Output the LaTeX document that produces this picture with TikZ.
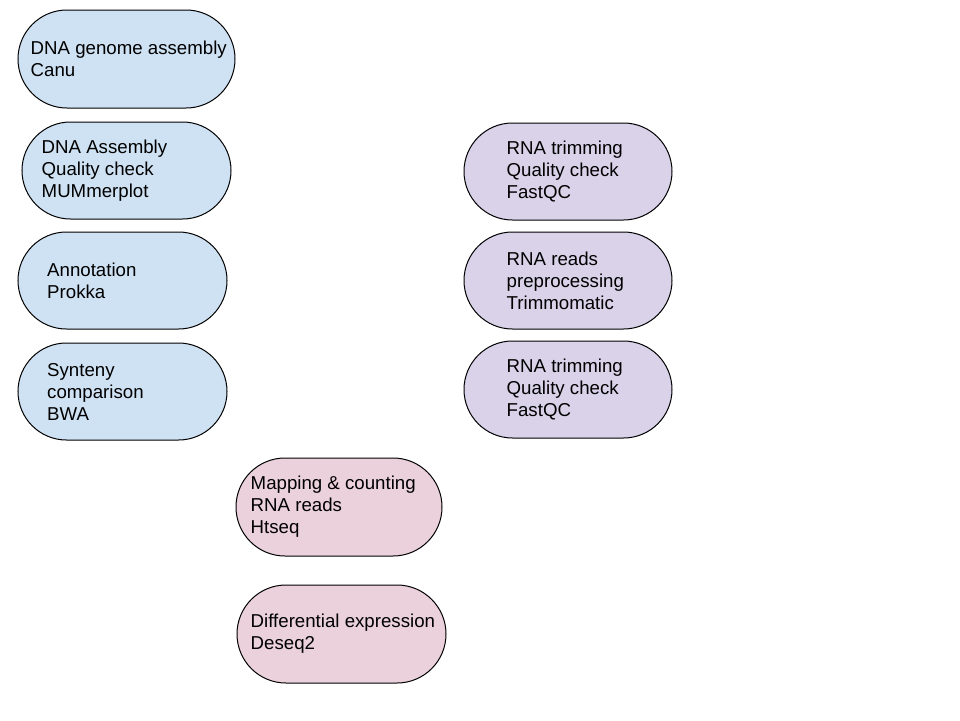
\documentclass[tikz,border=0pt]{standalone}
\usepackage{fontspec}
\setmainfont{Liberation Sans}
\definecolor{dnablue}{HTML}{CFE2F3}
\definecolor{rnapurple}{HTML}{D9D2E9}
\definecolor{mappink}{HTML}{EAD1DC}
\begin{document}
\begin{tikzpicture}[x=1pt,y=1pt,
  stage/.style={draw=black, line width=1pt, rectangle, inner sep=0pt,
    minimum height=97pt, rounded corners=48.5pt},
  label/.style={anchor=west, align=left, inner sep=0pt,
    font=\fontsize{18.67}{22}\selectfont}]
\useasboundingbox (0,0) rectangle (960,-720);
% DNA column
\node[stage, fill=dnablue, minimum width=217pt, minimum height=98pt, rounded corners=49pt] (canu) at (126.5,-59) {};
\node[label] (canu-t) at ([xshift=13pt]canu.west) {DNA genome assembly\\Canu};
\node[stage, fill=dnablue, minimum width=209pt] (mum) at (126.5,-170.5) {};
\node[label] (mum-t) at ([xshift=20pt]mum.west) {DNA Assembly\\Quality check\\MUMmerplot};
\node[stage, fill=dnablue, minimum width=209pt] (prokka) at (122.5,-280.5) {};
\node[label] (prokka-t) at ([xshift=29.5pt]prokka.west) {Annotation\\Prokka};
\node[stage, fill=dnablue, minimum width=209pt] (bwa) at (122.5,-391.5) {};
\node[label] (bwa-t) at ([xshift=29.5pt]bwa.west) {Synteny\\comparison\\BWA};
% RNA column
\node[stage, fill=rnapurple, minimum width=208pt] (qc1) at (568,-171.5) {};
\node[label] (qc1-t) at ([xshift=43pt]qc1.west) {RNA trimming\\Quality check\\FastQC};
\node[stage, fill=rnapurple, minimum width=208pt] (trim) at (568,-280.5) {};
\node[label] (trim-t) at ([xshift=43pt]trim.west) {RNA reads\\preprocessing\\Trimmomatic};
\node[stage, fill=rnapurple, minimum width=208pt] (qc2) at (568,-389.5) {};
\node[label] (qc2-t) at ([xshift=43pt]qc2.west) {RNA trimming\\Quality check\\FastQC};
% Analysis
\node[stage, fill=mappink, minimum width=206pt, minimum height=98pt, rounded corners=49pt] (htseq) at (339,-507) {};
\node[label] (htseq-t) at ([xshift=15pt]htseq.west) {Mapping \& counting\\RNA reads\\Htseq};
\node[stage, fill=mappink, minimum width=209pt, minimum height=98pt, rounded corners=49pt] (deseq) at (341.5,-634) {};
\node[label] (deseq-t) at ([xshift=14pt]deseq.west) {Differential expression\\Deseq2};
\end{tikzpicture}
\end{document}
